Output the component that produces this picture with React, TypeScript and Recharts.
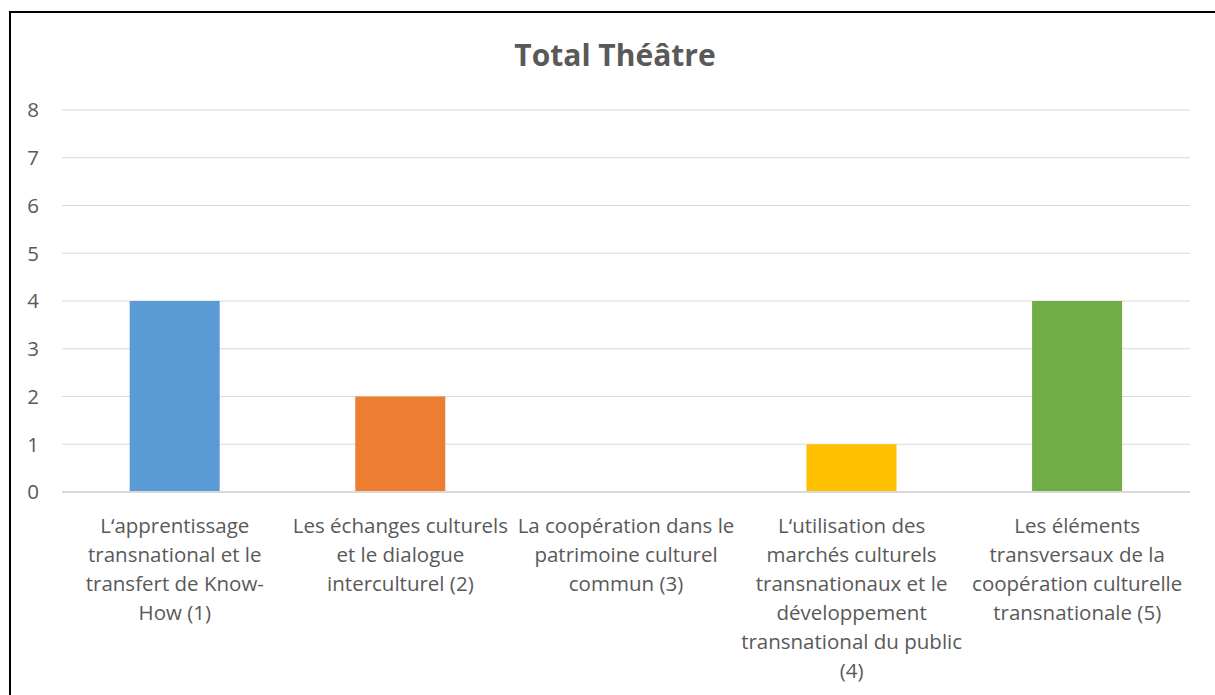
import React from 'react';
import { BarChart, Bar, XAxis, YAxis, CartesianGrid, Cell } from 'recharts';

const title = 'Total Théâtre';
const categoryLines: string[][] = [
  ['L‘apprentissage', 'transnational et le', 'transfert de Know-', 'How (1)'],
  ['Les échanges culturels', 'et le dialogue', 'interculturel (2)'],
  ['La coopération dans le', 'patrimoine culturel', 'commun (3)'],
  ['L‘utilisation des', 'marchés culturels', 'transnationaux et le', 'développement', 'transnational du public', '(4)'],
  ['Les éléments', 'transversaux de la', 'coopération culturelle', 'transnationale (5)'],
];
const values = [4, 2, 0, 1, 4];
const barColors = ['#5B9BD5', '#ED7D31', '#A5A5A5', '#FFC000', '#70AD47'];
const yTicks = [0, 1, 2, 3, 4, 5, 6, 7, 8];

const data = categoryLines.map((lines, i) => ({ name: lines.join(' '), value: values[i] }));

const FONT = '"Open Sans", sans-serif';
const LABEL_SIZE = 20.5;

const XTick = (props: any) => {
  const { x, y, payload } = props;
  const lines = categoryLines[payload.index] || [];
  return (
    <text x={x} y={y} textAnchor="middle" fill="#595959" fontSize={LABEL_SIZE} fontFamily={FONT}>
      {lines.map((l, i) => (
        <tspan key={i} x={x} y={y + 33 + i * 29}>{l}</tspan>
      ))}
    </text>
  );
};

export default function App() {
  return (
    <div style={{ position: 'absolute', left: 0, top: 0, width: 1215, height: 695, overflow: 'hidden', background: '#fff' }}>
      <div style={{ position: 'absolute', left: 9, top: 11, width: 1230, height: 720, borderLeft: '2px solid #000', borderTop: '2px solid #000' }} />
      <div style={{ position: 'absolute', left: 0, top: 34, width: 1230, textAlign: 'center', fontFamily: FONT, fontWeight: 700, fontSize: 30, color: '#595959' }}>
        {title}
      </div>
      <div style={{ position: 'absolute', left: 0, top: 0 }}>
        <BarChart width={1215} height={695} data={data} margin={{ top: 110, right: 25, bottom: 0, left: 0 }} barCategoryGap="30%">
          <CartesianGrid vertical={false} stroke="#D9D9D9" strokeWidth={1} />
          <XAxis dataKey="name" interval={0} height={203} tickLine={false} axisLine={{ stroke: '#D9D9D9', strokeWidth: 2 }} tick={<XTick />} />
          <YAxis width={62} domain={[0, 8]} ticks={yTicks} axisLine={false} tickLine={false} tickSize={6} tickMargin={17}
            tick={{ fill: '#595959', fontSize: LABEL_SIZE, fontFamily: FONT }} />
          <Bar dataKey="value" isAnimationActive={false}>
            {data.map((d, i) => (
              <Cell key={i} fill={barColors[i]} />
            ))}
          </Bar>
        </BarChart>
      </div>
    </div>
  );
}
